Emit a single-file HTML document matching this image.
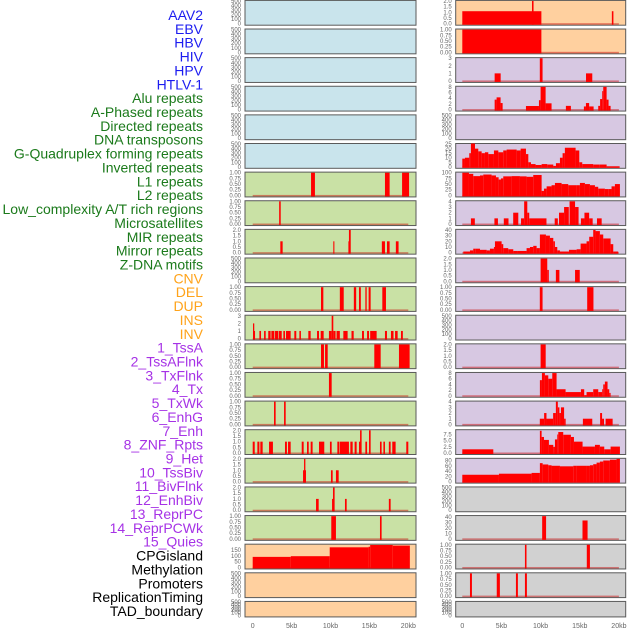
<!DOCTYPE html>
<html><head><meta charset="utf-8"><style>
html,body{margin:0;padding:0;background:#fff;width:630px;height:630px;overflow:hidden}
svg{display:block}
text{font-family:"Liberation Sans",sans-serif}
</style></head><body>
<svg id="chart" width="630" height="630" viewBox="0 0 630 630" xmlns="http://www.w3.org/2000/svg"></svg>
<script>
const labels=["AAV2","EBV","HBV","HIV","HPV","HTLV-1","Alu repeats","A-Phased repeats","Directed repeats","DNA transposons","G-Quadruplex forming repeats","Inverted repeats","L1 repeats","L2 repeats","Low_complexity A/T rich regions","Microsatellites","MIR repeats","Mirror repeats","Z-DNA motifs","CNV","DEL","DUP","INS","INV","1_TssA","2_TssAFlnk","3_TxFlnk","4_Tx","5_TxWk","6_EnhG","7_Enh","8_ZNF_Rpts","9_Het","10_TssBiv","11_BivFlnk","12_EnhBiv","13_ReprPC","14_ReprPCWk","15_Quies","CPGisland","Methylation","Promoters","ReplicationTiming","TAD_boundary"];
const xTicks=[0,5,10,15,20];
const xTickLabels=["0","5kb","10kb","15kb","20kb"];
const T500=["0","100","200","300","400","500"];
const T1=["0.00","0.25","0.50","0.75","1.00"];
const T2=["0.0","0.5","1.0","1.5","2.0"];
const T3=["0","1","2","3"];
const T4=["0","1","2","3","4"];
const T8=["0","2","4","6","8"];
// left column segments [startKb,endKb,value]
const L6=[[7.5,8.0,1],[17.0,17.6,1],[19.2,20.1,1]];
const L7=[[3.4,3.6,1]];
const L8=[[3.55,3.85,1],[10.36,10.5,1],[12.3,12.45,1],[12.37,12.6,2],[16.6,17.0,1],[17.26,17.6,1],[18.4,18.75,1]];
const L10=[[8.78,9.08,1],[11.2,11.7,1],[13.0,13.3,1],[13.66,13.9,1],[14.48,14.65,1],[14.9,15.16,1],[16.66,17.13,1]];
const L11=[[0.04,0.3,1],[0.04,0.2,2],[0.86,1.07,1],[1.46,1.67,1],[2.0,2.3,1],[2.4,2.78,1],[2.87,3.3,1],[3.38,3.73,1],[3.94,4.15,1],[4.28,4.88,1],[5.35,5.6,1],[6.0,6.2,1],[7.15,7.45,1],[8.27,8.52,1],[8.74,9.12,1],[9.8,10.15,1],[10.15,10.36,3],[10.36,10.65,1],[10.78,11.2,1],[11.65,12.2,1],[12.7,12.98,1],[14.05,14.3,1],[14.7,14.95,1],[15.1,15.93,1],[17.0,17.26,1],[17.77,18.1,1],[18.3,18.63,1],[19.06,19.3,1]];
const L12=[[8.78,9.16,1],[9.3,9.64,1],[15.63,16.45,1],[18.8,20.17,1]];
const L13=[[9.8,10.15,1]];
const L14=[[2.74,2.95,1],[4.03,4.24,1]];
const L15=[[0,0.26,1],[0.6,0.86,1],[0.98,1.28,1],[2.1,2.6,1],[4.15,4.4,1],[4.54,4.88,1],[6.3,6.55,1],[6.98,7.2,1],[7.45,7.7,1],[8.52,9.2,1],[9.93,10.15,1],[10.88,11.13,1],[11.2,12.37,1],[12.55,12.85,1],[13.1,13.36,1],[13.66,13.96,1],[13.8,14.0,2],[14.48,14.7,1],[14.95,15.16,2],[16.36,16.57,1],[16.8,17.0,1],[17.5,17.73,1],[17.94,18.37,1],[19.74,20.0,1]];
const L16=[[6.47,6.85,1],[6.6,6.77,2],[10.06,10.28,1],[10.7,11.05,1]];
const L17=[[8.14,8.48,1],[10.2,10.5,1],[10.32,10.53,2],[11.86,12.08,1],[17.5,17.73,1]];
const L18=[[10.1,10.7,1],[16.36,16.57,1]];
const L19=[[0,4.9,92],[4.9,9.9,98],[9.9,14.9,175],[14.9,15.1,180],[15.1,18.0,195],[18.0,20.2,190]];
// right column
const R0=[[0,10.1,1.1],[8.9,9.1,2],[19.1,19.3,1.1]];
const R1=[[0,10.1,1]];
const R2=[[4.13,4.9,1],[9.9,10.25,3],[15.8,16.6,1]];
const R3=[[4.13,4.38,3.5],[4.38,4.89,4.3],[4.89,5.15,2.3],[8.13,9.79,1.25],[9.79,10.0,3.3],[10.0,10.64,8],[10.64,11.4,2.2],[13.23,13.87,1.3],[15.53,15.79,1.1],[15.79,16.2,2.3],[16.2,16.77,1.1],[17.36,17.6,1.3],[17.6,17.87,3.7],[17.87,18.0,6.5],[18.0,18.43,8],[18.43,18.68,3.5],[18.68,18.94,1.3]];
const R5edges=[0,.34,.89,1.1,1.62,2.04,2.47,2.89,3.32,4.04,4.6,5.23,5.66,6.94,7.45,8.13,8.43,8.77,9.36,10.13,10.85,11.62,11.96,12.47,12.81,13.1,14.47,14.94,15.32,16.72,17.49,18.43,20.1];
const R5vals=[9,10,15,26,20,17,15,16,14,18,16,18,19,18,20,14,5,3,2,3,2.5,1,4,10,15,21,18,5,3,2.5,2.5,0.5];
const R6edges=[0,.85,1.4,2.26,2.68,3.74,4.3,4.64,4.94,5.23,6.3,7.36,8.21,9.06,10.13,10.43,10.77,11.4,11.83,12.68,13.53,14.6,15.02,15.66,16.3,16.94,17.36,18.21,18.64,19.06,19.49,20.13];
const R6vals=[100,95,85,88,92,88,80,70,75,84,85,84,82,90,20,30,40,45,55,50,45,45,55,50,45,38,30,28,28,40,50];
const R7=[[1.1,1.6,1],[4.1,4.55,1],[5.3,5.9,1],[6.5,7.15,2],[7.5,7.9,1],[7.9,8.3,4],[8.3,8.55,2],[8.55,10.75,1],[11.8,12.2,1],[12.35,13.0,2],[13.0,13.6,3],[13.7,14.4,4],[14.4,14.85,3],[15.15,15.6,1],[15.6,16.2,2],[16.2,16.65,1],[17.2,17.8,1]];
const R8edges=[.13,.98,1.4,1.66,2.26,3.11,3.53,4.04,4.17,5.02,5.23,5.87,6.51,7.06,8.21,8.64,9.06,9.49,9.91,10.68,11.19,11.62,11.83,12.13,12.47,13.62,14.6,15.11,15.87,16.21,16.72,17.02,17.57,18.0,18.94,19.28,19.91];
const R8vals=[2,4,7,7,5,4,7,10,20,15,8,6,3,3,8,10,12,8,32,30,26,20,10,4,2,5,6,16,20,28,40,38,32,25,15,2];
const R9=[[10,10.85,2],[10.85,11.05,1],[11.95,12.4,1],[14.4,15.0,1]];
const R10=[[9.9,10.25,1],[15.95,16.75,1]];
const R12=[[10,10.65,2]];
const R13edges=[9.91,10.17,10.55,10.98,11.49,12.04,13.19,15.15,15.57,15.87,16.72,17.36,17.87,18.0,18.21,18.55,18.77,18.94];
const R13vals=[5.5,8,7.2,6,8,2.3,1.3,2.3,0.2,1.3,2.3,1.3,2.3,4,5,2.3,1];
const R14=[[9.9,10.45,1],[10.45,10.75,2],[10.75,11.6,1],[11.6,11.95,2],[11.95,12.2,4],[12.2,12.4,3],[12.4,12.6,2],[12.6,13.0,3],[13.0,13.2,1],[15.4,16.6,1],[17.6,17.85,2],[17.85,18.1,1],[18.3,19.2,1]];
const R15edges=[0,3.96,9.91,10.13,10.43,11.06,11.62,11.83,12.13,12.26,12.89,13.87,14.26,15.36,16.94,17.57,18.13,18.94,20.13];
const R15vals=[1.5,0,9,6.5,5.3,3.3,2.5,5.5,7.5,8.5,7.4,6.5,4.6,2.6,3.3,2.6,1.5,2.6];
const R16edges=[0,4.68,8.85,9.91,10.26,10.98,11.4,12.47,14.17,14.6,15.87,16.3,16.72,17.15,17.57,18.0,18.85,19.7,20.13];
const R16vals=[26,30,33,70,65,62,60,58,60,60,60,62,66,72,76,80,83,86];
const R18=[[10.2,10.7,42],[15.35,16.0,34]];
const R19=[[8.0,8.2,1],[15.9,16.3,1]];
const R20=[[0.98,1.23,1],[4.4,4.8,1],[6.85,7.1,1],[8.0,8.25,1]];

function steps(e,v){const s=[];for(let i=0;i<v.length;i++){if(v[i]>0)s.push([e[i],e[i+1],v[i]]);}return s;}
const leftData=[null,null,null,null,null,null,L6,L7,L8,null,L10,L11,L12,L13,L14,L15,L16,L17,L18,L19,null,null];
const leftTicks=[T500,T500,T500,T500,T500,T500,T1,T1,T2,T500,T1,T3,T1,T1,T1,T2,T2,T2,T1,["0","50","100","150"],T500,T500];
const leftMax=[500,500,500,500,500,500,1,1,2,500,1,3,1,1,1,2,2,2,1,197,500,500];
const rightData=[R0,R1,R2,R3,null,steps(R5edges,R5vals),steps(R6edges,R6vals),R7,steps(R8edges,R8vals),R9,R10,null,R12,steps(R13edges,R13vals),R14,steps(R15edges,R15vals),steps(R16edges,R16vals),null,R18,R19,R20,null];
const rightTicks=[T2,T1,T3,T8,T500,["0","5","10","15","20","25"],["0","25","50","75","100"],T4,["0","10","20","30","40"],T2,T1,T500,T2,T8,T4,["0.0","2.5","5.0","7.5"],["0","20","40","60","80"],T500,["0","10","20","30","40"],T1,T1,T500];
const rightMax=[2,1,3,8,500,25,100,4,40,2,1,500,2,8,4,9.2,86,500,42,1,1,500];

const NS="http://www.w3.org/2000/svg";
const svg=document.getElementById('chart');
function mk(tag,attrs,parent){const e=document.createElementNS(NS,tag);for(const k in attrs)e.setAttribute(k,attrs[k]);(parent||svg).appendChild(e);return e;}

// labels
labels.forEach((t,i)=>{
  let col=i<6?"#1c1cf0":i<19?"#1b7a1b":i<24?"#ffa31a":i<39?"#a632e6":"#000";
  const el=mk('text',{x:203,y:15+i*13.86+5,'text-anchor':'end','font-size':14,fill:col});
  el.textContent=t;
  
  
});

const cols=[
 {x0:245,x1:416,z:252.7,sc:7.78,data:leftData,ticks:leftTicks,max:leftMax,side:'left',bg:i=>i<6?"#c9e4ec":i<19?"#c9e1a5":"#ffd09f"},
 {x0:455.7,x1:625.7,z:462.3,sc:7.83,data:rightData,ticks:rightTicks,max:rightMax,side:'right',bg:i=>i<2?"#ffd09f":i<17?"#d7c8e2":"#d1d1d1"}
];
cols.forEach(c=>{
  const xs=kb=>c.z+kb*c.sc;
  for(let i=0;i<22;i++){
    const top=0.4+i*28.62, h=i===21?15.5:24.8;
    const g=mk('g',{});
    
    
    const r=mk('rect',{x:c.x0,y:top,width:c.x1-c.x0,height:h,fill:c.bg(i),stroke:"#5a5a5a",'stroke-width':1},g);
    
    
    const y0=top+h-1.5, yt=top+0.6;
    const ys=v=>y0-v/c.max[i]*(y0-yt);
    const tk=c.ticks[i];
    tk.forEach(lbl=>{
      const t=mk('text',{x:c.x0-4,y:ys(parseFloat(lbl))+2,'text-anchor':'end','font-size':6,fill:"#666"},g);
      t.textContent=lbl;
      
      
    });
    const d=c.data[i];
    if(d){
      const bl=mk('rect',{x:xs(0),y:y0-0.5,width:xs(20)-xs(0),height:1.5,fill:"rgba(200,0,0,0.45)"},g);
      
      
      d.forEach(s=>{
        const yv=Math.max(ys(s[2]),top);
        const b=mk('rect',{x:xs(s[0]),y:yv,width:Math.max(xs(s[1])-xs(s[0]),1),height:y0+1-yv,fill:"#ff0000"},g);
        
        
      });
    }
  }
  xTicks.forEach((v,k)=>{
    const t=mk('text',{x:xs(v),y:628,'text-anchor':'middle','font-size':7,fill:"#666"});
    t.textContent=xTickLabels[k];
    
    
  });
});
</script>
</body></html>
